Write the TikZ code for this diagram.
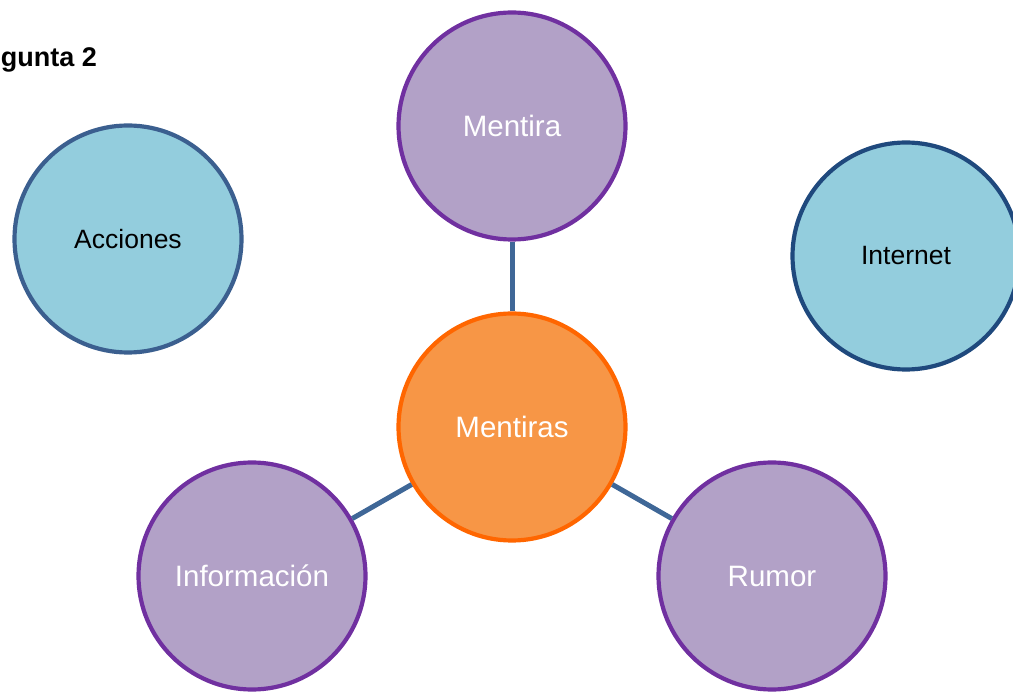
\documentclass[tikz,border=0pt]{standalone}
\usepackage{fontspec}
\setmainfont{Liberation Sans}
\usepackage{tikz}
\usetikzlibrary{positioning}

\definecolor{lilafill}{HTML}{B2A1C7}
\definecolor{liladraw}{HTML}{7030A0}
\definecolor{orfill}{HTML}{F79646}
\definecolor{ordraw}{HTML}{FF6600}
\definecolor{azfill}{HTML}{93CDDD}
\definecolor{azdraw}{HTML}{3B5F8F}
\definecolor{azdark}{HTML}{1F497D}
\definecolor{linea}{HTML}{3F6797}

\begin{document}
\begin{tikzpicture}[x=1pt, y=-1pt,
			every node/.style={font=\fontsize{26.5}{32}\selectfont},
			bubble/.style={circle, minimum size=227pt, inner sep=0pt,
				line width=4.2pt, align=center},
			lila/.style={bubble, draw=liladraw, fill=lilafill, text=white,
				font=\fontsize{29.5}{35}\selectfont},
			naranja/.style={bubble, draw=ordraw, fill=orfill, text=white,
				font=\fontsize{29.5}{35}\selectfont},
			azul/.style={bubble, draw=azdraw, fill=azfill, text=black},
			conn/.style={draw=linea, line width=5pt},
			]
			\useasboundingbox (0,0) rectangle (1013,692);
			\clip (0,0) rectangle (1013,692);
			% --- title (cut at the left edge) ---
			\node[anchor=base east, font=\fontsize{27}{32}\selectfont\bfseries,
			inner sep=0pt] (titulo) at (97,67) {gunta 2};

			% --- centre ---
			\node[naranja] (mentiras) at (512,427) {Mentiras};

			% --- linked bubbles ---
			\node[lila] (mentira) at (512,126) {Mentira};
			\node[lila] (info) at (252,576) {Información};
			\node[lila] (rumor) at (772,576) {Rumor};

			% --- loose bubbles ---
			\node[azul] (acciones) at (128,239) {Acciones};
			\node[azul, draw=azdark] (internet) at (906,256) {Internet};

			% ---- connectors ----
			\draw[conn] (mentira) -- (mentiras);
			\draw[conn] (mentiras) -- (info);
			\draw[conn] (mentiras) -- (rumor);
		\end{tikzpicture}
\end{document}
